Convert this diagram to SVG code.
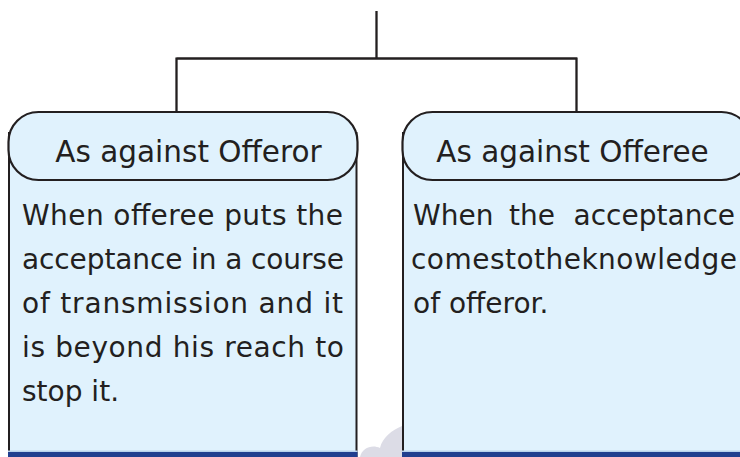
<svg xmlns="http://www.w3.org/2000/svg" width="740" height="457" viewBox="0 0 740 457">
<style>
.ln{fill:none;stroke:#231f20;stroke-width:2.3}
.box{fill:#e0f2fd;stroke:#231f20;stroke-width:2}
.pill{fill:#e0f2fd;stroke:#231f20;stroke-width:2.2}
.hd{font-family:"DejaVu Sans","Noto Sans",sans-serif;font-size:29.5px;fill:#231f20}
.bd{font-family:"DejaVu Sans","Noto Sans",sans-serif;font-size:28px;fill:#231f20}
.bar{fill:#213f8f}
.barl{fill:#b8d2ec}
</style>
<rect width="740" height="457" fill="#ffffff"/>
<path d="M360 457 C362 448 372 444 380 448 C382 438 392 430 402 426 L402 457 Z" fill="#dcdce6"/>
<g id="connectors">
<path class="ln" d="M376.5 11 V58.5 M176.5 58.5 H577 M176.5 57.5 V112 M576.5 57.5 V112"/>
</g>
<g id="node-offeror">
<rect class="box" x="9" y="133" width="347.5" height="340"/>
<rect class="barl" x="8" y="450.5" width="349.5" height="1.5"/>
<rect class="bar" x="8" y="452" width="349.5" height="5"/>
<rect class="pill" x="8.5" y="112" width="349" height="68" rx="30" ry="30"/>
<text class="hd" x="188.5" y="162" text-anchor="middle">As against Offeror</text>
<text class="bd" x="22" y="225" textLength="321" lengthAdjust="spacing">When offeree puts the</text>
<text class="bd" x="22" y="269" textLength="322" lengthAdjust="spacing">acceptance in a course</text>
<text class="bd" x="22" y="313" textLength="321" lengthAdjust="spacing">of transmission and it</text>
<text class="bd" x="22" y="357" textLength="322" lengthAdjust="spacing">is beyond his reach to</text>
<text class="bd" x="22" y="401">stop it.</text>
</g>
<g id="node-offeree">
<rect class="box" x="403" y="133" width="347.5" height="340"/>
<rect class="barl" x="402" y="450.5" width="340" height="1.5"/>
<rect class="bar" x="402" y="452" width="340" height="5"/>
<rect class="pill" x="402.5" y="112" width="349" height="68" rx="30" ry="30"/>
<text class="hd" x="572.5" y="162" text-anchor="middle">As against Offeree</text>
<text class="bd" x="413" y="225">When</text>
<text class="bd" x="509" y="225">the</text>
<text class="bd" x="735" y="225" text-anchor="end">acceptance</text>
<text class="bd" x="411" y="269" textLength="326" lengthAdjust="spacing">comestotheknowledge</text>
<text class="bd" x="413" y="313">of offeror.</text>
</g>
</svg>
